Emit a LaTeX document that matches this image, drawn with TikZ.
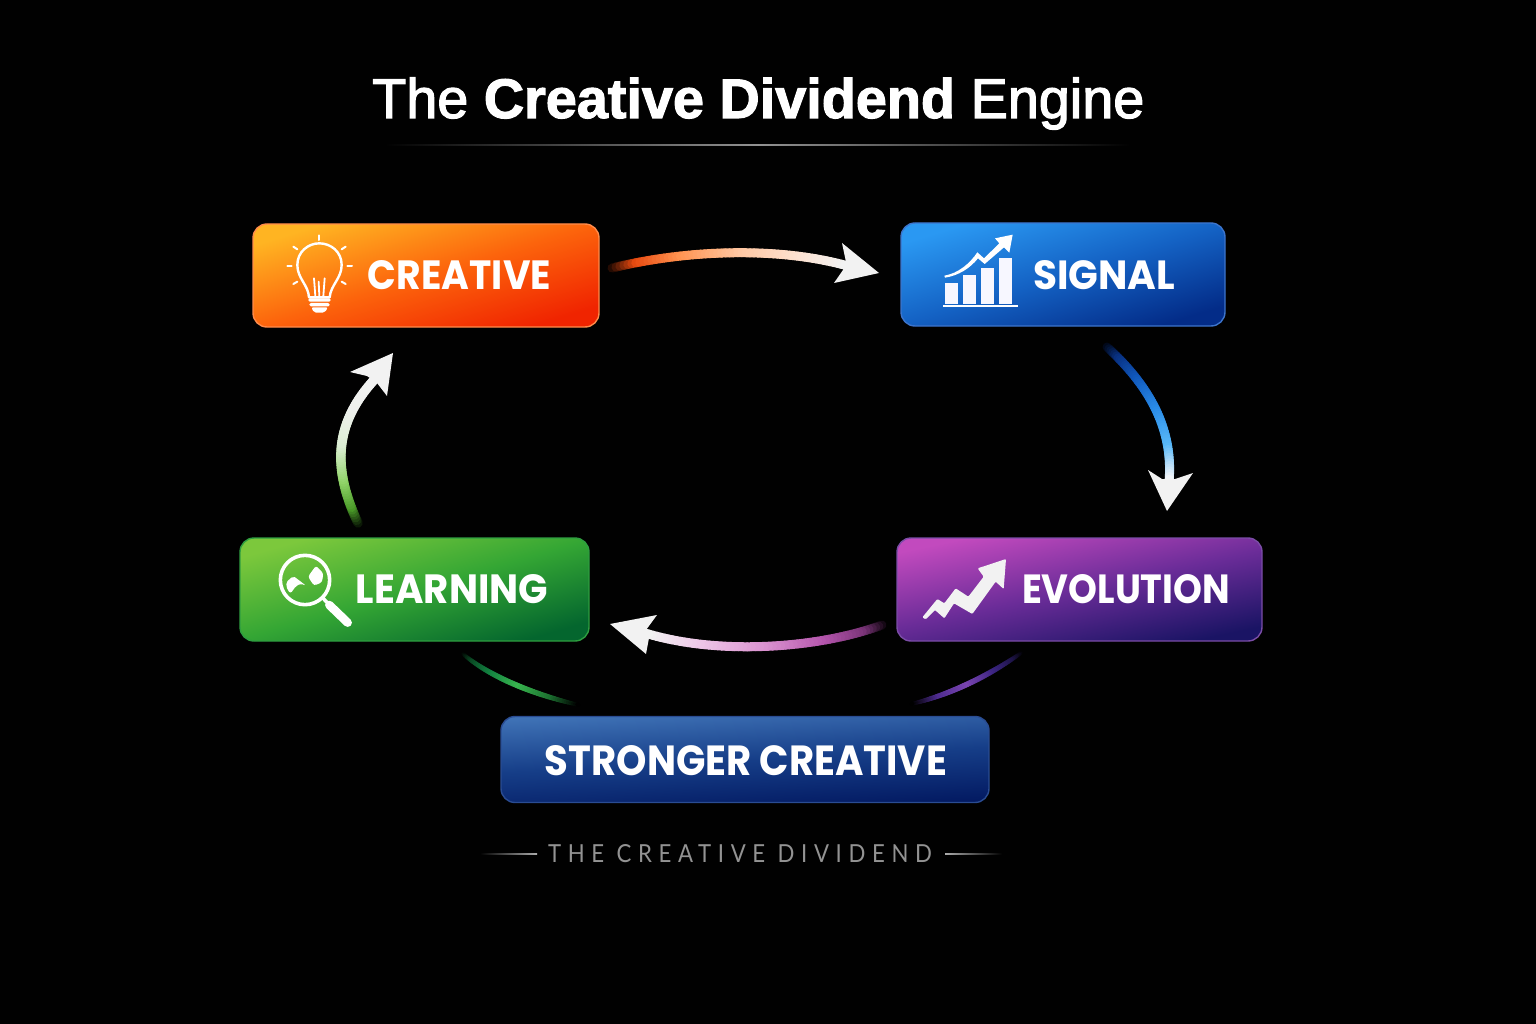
\documentclass[tikz,border=0pt]{standalone}
\usepackage{fontspec}
\usepackage{graphicx}
\usetikzlibrary{calc}
\setmainfont{Lato}
\newfontfamily\hd{Poppins}
\newfontfamily\ttl{Liberation Sans}[FakeBold=2.2,BoldFeatures={FakeBold=2}]
\newfontfamily\sbt{Lato}[LetterSpace=30]
\definecolor{headc}{HTML}{F2F2F2}
\definecolor{bgc}{HTML}{010101}
\definecolor{FFborder}{HTML}{FF8A4A}
\definecolor{SIborder}{HTML}{3C74CC}
\definecolor{LEborder}{HTML}{2E9E40}
\definecolor{EVborder}{HTML}{7A4CA6}
\definecolor{STborder}{HTML}{2A4C92}
\newcommand{\boxshade}[4]{%
 \pgfdeclareverticalshading{#1}{100bp}{color(0bp)=(#4);color(25bp)=(#4);color(50bp)=(#3);color(75bp)=(#2);color(100bp)=(#2)}}
\definecolor{crA}{HTML}{FFB422}\definecolor{crB}{HTML}{FC640C}\definecolor{crC}{HTML}{F02400}
\definecolor{siA}{HTML}{2A98F2}\definecolor{siB}{HTML}{1462C4}\definecolor{siC}{HTML}{032C88}
\definecolor{evA}{HTML}{C24ABE}\definecolor{evB}{HTML}{6A2C98}\definecolor{evC}{HTML}{1A1464}
\definecolor{leA}{HTML}{7CC83C}\definecolor{leB}{HTML}{34A634}\definecolor{leC}{HTML}{04662E}
\definecolor{stA}{HTML}{3F72B6}\definecolor{stB}{HTML}{163E88}\definecolor{stC}{HTML}{031A62}
\boxshade{crS}{crA}{crB}{crC}
\boxshade{siS}{siA}{siB}{siC}
\boxshade{evS}{evA}{evB}{evC}
\boxshade{leS}{leA}{leB}{leC}
\boxshade{stS}{stA}{stB}{stC}
% arc colour stops, at t = 0, .12, .3, .55, .8, 1
\definecolor{aA0}{HTML}{050100}\definecolor{aA1}{HTML}{E84A10}\definecolor{aA2}{HTML}{FF9350}\definecolor{aA3}{HTML}{FFC8A4}\definecolor{aA4}{HTML}{FDE2D2}\definecolor{aA5}{HTML}{F2F2F2}
\definecolor{aB0}{HTML}{000208}\definecolor{aB1}{HTML}{083080}\definecolor{aB2}{HTML}{1058BC}\definecolor{aB3}{HTML}{2A8CE8}\definecolor{aB4}{HTML}{58B8F8}\definecolor{aB5}{HTML}{F0F4F8}
\definecolor{aC0}{HTML}{050105}\definecolor{aC1}{HTML}{7A3478}\definecolor{aC2}{HTML}{B455AC}\definecolor{aC3}{HTML}{DC96D2}\definecolor{aC4}{HTML}{EEC8E8}\definecolor{aC5}{HTML}{F2F2F2}
\definecolor{aD0}{HTML}{010400}\definecolor{aD1}{HTML}{4A9A28}\definecolor{aD2}{HTML}{90D468}\definecolor{aD3}{HTML}{DCEED4}\definecolor{aD4}{HTML}{EEF0EC}\definecolor{aD5}{HTML}{F2F2F2}
\definecolor{aE0}{HTML}{000000}\definecolor{aE1}{HTML}{0A4A24}\definecolor{aE2}{HTML}{128040}\definecolor{aE3}{HTML}{38B44E}\definecolor{aE4}{HTML}{1C7030}\definecolor{aE5}{HTML}{000000}
\definecolor{aF0}{HTML}{000000}\definecolor{aF1}{HTML}{1E1448}\definecolor{aF2}{HTML}{3A2480}\definecolor{aF3}{HTML}{7A44B0}\definecolor{aF4}{HTML}{4E2C90}\definecolor{aF5}{HTML}{000000}
% #1..#4 bezier coordinates, #5 width, #6 colour prefix, #7 taper amount
\newcommand{\gradarc}[7]{%
 \foreach \i in {0,...,60}{%
  \pgfmathsetmacro\ta{\i/60}%
  \coordinate (qa) at ($(#1)!\ta!(#2)$);
  \coordinate (qb) at ($(#2)!\ta!(#3)$);
  \coordinate (qc) at ($(#3)!\ta!(#4)$);
  \coordinate (ra) at ($(qa)!\ta!(qb)$);
  \coordinate (rb) at ($(qb)!\ta!(qc)$);
  \coordinate (gcur) at ($(ra)!\ta!(rb)$);
  \ifnum\i>0
   \pgfmathtruncatemacro\kk{\ta<=0.12?0:(\ta<=0.3?1:(\ta<=0.55?2:(\ta<=0.8?3:4)))}%
   \pgfmathtruncatemacro\kn{\kk+1}%
   \pgfmathsetmacro\tl{{0,0.12,0.3,0.55,0.8,1}[\kk]}%
   \pgfmathsetmacro\th{{0,0.12,0.3,0.55,0.8,1}[\kn]}%
   \pgfmathtruncatemacro\pp{100-100*(\ta-\tl)/(\th-\tl)}%
   \colorlet{segc}{#6\kk!\pp!#6\kn}%
   \pgfmathsetmacro\ww{#5*(1-#7*(2*\ta-1)*(2*\ta-1))}%
   \draw[line width=\ww pt,color=segc,line cap=round] (gprev) -- (gcur);
  \fi
  \coordinate (gprev) at (gcur);
 }%
}
\tikzset{
 boxn/.style={rectangle,rounded corners=14pt,inner sep=0pt,outer sep=0pt,line width=1.4pt},
 lbl/.style={text=white,inner sep=0pt,font=\hd\bfseries},
 head/.style={fill=headc,draw=none}
}
\begin{document}
\begin{tikzpicture}[x=1pt,y=-1pt]
\useasboundingbox (0,0) rectangle (1536,1024);
\fill[bgc] (0,0) rectangle (1536,1024);
% title
\node[text=white,inner sep=0pt,anchor=base west] (title) at (372,118)
 {\resizebox{772pt}{!}{\ttl The \bfseries Creative Dividend \mdseries Engine}};
\shade[left color=bgc,right color=gray!85,shading=axis] (385,144.4) rectangle (758,145.6);
\shade[right color=bgc,left color=gray!85,shading=axis] (758,144.4) rectangle (1130,145.6);
% boxes
\node[boxn,draw=FFborder,shading=crS,shading angle=17,minimum width=346pt,minimum height=103pt] (creative) at (426,275.5) {};
\node[boxn,draw=SIborder,shading=siS,shading angle=17,minimum width=324pt,minimum height=103pt] (signal) at (1063,274.5) {};
\node[boxn,draw=LEborder,shading=leS,shading angle=16,minimum width=349pt,minimum height=103pt] (learning) at (414.5,589.5) {};
\node[boxn,draw=EVborder,shading=evS,shading angle=12,minimum width=365pt,minimum height=103pt] (evolution) at (1079.5,589.5) {};
\node[boxn,draw=STborder,shading=stS,shading angle=3,minimum width=488pt,minimum height=86pt] (stronger) at (745,759.5) {};
% labels
\node[lbl] (tcreative) at (459.5,275.5) {\resizebox{183pt}{29pt}{CREATIVE}};
\node[lbl] (tsignal) at (1104,275) {\resizebox{142pt}{29pt}{SIGNAL}};
\node[lbl] (tevolution) at (1126,589.5) {\resizebox{208pt}{29pt}{EVOLUTION}};
\node[lbl] (tlearning) at (452,589.5) {\resizebox{192pt}{29pt}{LEARNING}};
\node[lbl] (tstronger) at (746,760.5) {\resizebox{402pt}{30pt}{STRONGER CREATIVE}};
% footer
\node[text=gray!85,inner sep=0pt] (foot) at (740,853.5) {\resizebox{384pt}{18pt}{\sbt THE CREATIVE DIVIDEND}};
\shade[left color=bgc,right color=gray!65,shading=axis] (480,853.2) rectangle (537,854.2);
\shade[right color=bgc,left color=gray!65,shading=axis] (945,853.2) rectangle (1002,854.2);
% arrows
\coordinate (a1s) at (612,268);\coordinate (a1c) at (690,249);\coordinate (a1d) at (780,247);\coordinate (a1e) at (848,266);
\coordinate (a2s) at (1107,347);\coordinate (a2c) at (1145,382);\coordinate (a2d) at (1174,425);\coordinate (a2e) at (1169,482);
\coordinate (a3s) at (882,625);\coordinate (a3c) at (820,648);\coordinate (a3d) at (720,656);\coordinate (a3e) at (645,633);
\coordinate (a4s) at (358,523);\coordinate (a4c) at (333,470);\coordinate (a4d) at (333,425);\coordinate (a4e) at (374,380);
\coordinate (a5s) at (463,654);\coordinate (a5c) at (490,677);\coordinate (a5d) at (535,695);\coordinate (a5e) at (579,705);
\coordinate (a6s) at (1021,653);\coordinate (a6c) at (990,675);\coordinate (a6d) at (950,695);\coordinate (a6e) at (911,704);
\gradarc{a1s}{a1c}{a1d}{a1e}{9}{aA}{0}
\gradarc{a2s}{a2c}{a2d}{a2e}{9}{aB}{0}
\gradarc{a3s}{a3c}{a3d}{a3e}{9}{aC}{0}
\gradarc{a4s}{a4c}{a4d}{a4e}{9.5}{aD}{0}
\gradarc{a5s}{a5c}{a5d}{a5e}{5.5}{aE}{0.35}
\gradarc{a6s}{a6c}{a6d}{a6e}{5.5}{aF}{0.35}
\fill[head] (879,273) -- (842,243) -- (846,262) -- (843,270) -- (834,283) -- cycle;
\fill[head] (1167,511) -- (1148,470) -- (1162,479) -- (1175,479) -- (1193,473) -- cycle;
\fill[head] (610,624) -- (657,615) -- (646,630) -- (649,638) -- (646,654) -- cycle;
\fill[head] (393,353) -- (350,372) -- (367,376) -- (377,383) -- (387,396) -- cycle;
% bulb icon
\begin{scope}[shift={(240,210)},scale=1/3]
 \draw[white,line width=2.4pt,line cap=round,line join=round]
  (207,262) .. controls (205,225) and (172,205) .. (172,165)
  .. controls (172,125) and (205,100) .. (238,100)
  .. controls (272,100) and (305,125) .. (305,165)
  .. controls (305,205) and (272,225) .. (269,262) -- cycle;
 \draw[white,line width=1.8pt,line cap=round,line join=round]
  (226,258) -- (222,205) (250,258) -- (254,205) (238,258) -- (236,215);
 \foreach \xa/\ya/\xb/\yb in {238/76/238/90, 160/110/172/118, 305/118/317/110, 142/167/155/167, 322/167/336/167, 160/222/172/215, 305/215/317/222}
  \draw[white,line width=2pt,line cap=round] (\xa,\ya) -- (\xb,\yb);
 \fill[white,rounded corners=1.5pt] (205,265) rectangle (272,275);
 \fill[white,rounded corners=1.5pt] (208,279) rectangle (269,289);
 \fill[white,rounded corners=2pt] (214,292) -- (264,292) -- (254,308) -- (222,308) -- cycle;
\end{scope}
% chart icon
\begin{scope}[shift={(890,210)},scale=1/3]
 \fill[white!97!blue] (165,218) rectangle (205,282);
 \fill[white!97!blue] (220,195) rectangle (258,282);
 \fill[white!97!blue] (274,175) rectangle (312,282);
 \fill[white!97!blue] (328,145) rectangle (366,282);
 \fill[white] (158,285) rectangle (385,290);
 \fill[white,line join=round] (163,197) .. controls (205,190) and (240,160) .. (262,127)
  -- (282,145) -- (328,100) -- (315,85) -- (368,74) -- (358,128) -- (342,112) -- (284,162) -- (264,145)
  .. controls (240,175) and (205,197) .. (165,203) -- cycle;
\end{scope}
% magnifier icon
\begin{scope}[shift={(230,525)},scale=1/3]
 \draw[white,line width=3.6pt] (225,165) circle (74);
 \draw[white,line width=3.5pt] (276,216) -- (296,238);
 \draw[white,line width=8.5pt,line cap=round] (298,240) -- (353,293);
 \fill[white,rounded corners=2pt] (168,172) -- (190,153) -- (210,168) -- (228,182) -- (213,176) -- (198,183) -- (182,205) -- (172,195) -- cycle;
 \fill[white,rounded corners=2.5pt] (234,155) -- (258,122) -- (280,145) -- (276,172) -- (252,182) -- cycle;
\end{scope}
% evolution icon
\begin{scope}[shift={(885,525)},scale=1/3]
 \fill[headc,line join=round,rounded corners=1pt] (112,277) -- (157,222) -- (178,235) -- (212,190) -- (250,215) -- (296,155) -- (278,130) -- (363,102) -- (356,192) -- (332,170) -- (262,267) -- (207,235) -- (178,280) -- (150,255) -- (122,283) -- cycle;
\end{scope}
\end{tikzpicture}
\end{document}
